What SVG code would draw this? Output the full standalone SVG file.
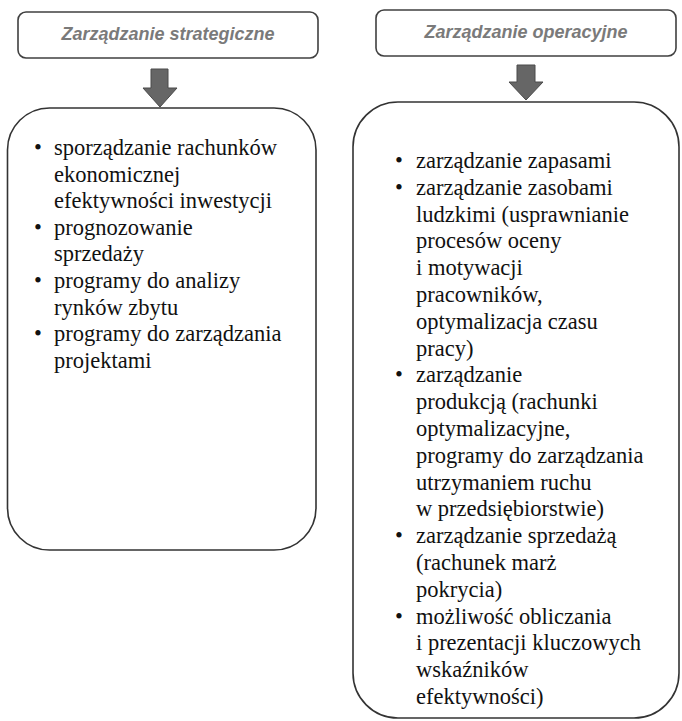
<svg xmlns="http://www.w3.org/2000/svg" width="682" height="721" viewBox="0 0 682 721">
<style>
.head{fill:#fff;stroke:#404040;stroke-width:1.6}
.big{fill:#fff;stroke:#333;stroke-width:1.6}
.ht{font-family:"Liberation Sans",Arial,sans-serif;font-weight:bold;font-style:italic;font-size:18px;fill:#7a7a7a;text-anchor:middle}
.bt{font-family:"Liberation Serif","Times New Roman",serif;font-size:22.5px;fill:#111}
.arr{fill:#666;stroke:#4a4a4a;stroke-width:1}
</style>
<rect width="682" height="721" fill="#fff"/>
<g id="head-strategic">
<rect class="head" x="18" y="12" width="300" height="46" rx="8"/>
<text class="ht" x="168" y="40">Zarządzanie strategiczne</text>
</g>
<g id="head-operational">
<rect class="head" x="376" y="10" width="300" height="46" rx="8"/>
<text class="ht" x="526" y="38">Zarządzanie operacyjne</text>
</g>
<g id="connectors">
<polygon class="arr" points="151,69 168,69 168,88 177,88 160,107 143,88 151,88"/>
<polygon class="arr" points="517,65 535,65 535,82 543,82 526,100 509,82 517,82"/>
</g>
<g id="list-strategic">
<rect class="big" x="7.5" y="108" width="308.5" height="442" rx="42"/>
<g class="bt">
<text x="34" y="155">•</text>
<text x="54" y="155">sporządzanie rachunków</text>
<text x="54" y="181.6">ekonomicznej</text>
<text x="54" y="208.2">efektywności inwestycji</text>
<text x="34" y="234.8">•</text>
<text x="54" y="234.8">prognozowanie</text>
<text x="54" y="261.4">sprzedaży</text>
<text x="34" y="288">•</text>
<text x="54" y="288">programy do analizy</text>
<text x="54" y="314.6">rynków zbytu</text>
<text x="34" y="341.2">•</text>
<text x="54" y="341.2">programy do zarządzania</text>
<text x="54" y="367.8">projektami</text>
</g>
</g>
<g id="list-operational">
<rect class="big" x="353" y="102" width="326" height="616" rx="45"/>
<g class="bt">
<text x="395" y="168">•</text>
<text x="416" y="168">zarządzanie zapasami</text>
<text x="395" y="194.8">•</text>
<text x="416" y="194.8">zarządzanie zasobami</text>
<text x="416" y="221.6">ludzkimi (usprawnianie</text>
<text x="416" y="248.4">procesów oceny</text>
<text x="416" y="275.2">i motywacji</text>
<text x="416" y="302">pracowników,</text>
<text x="416" y="328.8">optymalizacja czasu</text>
<text x="416" y="355.6">pracy)</text>
<text x="395" y="382.4">•</text>
<text x="416" y="382.4">zarządzanie</text>
<text x="416" y="409.2">produkcją (rachunki</text>
<text x="416" y="436">optymalizacyjne,</text>
<text x="416" y="462.8">programy do zarządzania</text>
<text x="416" y="489.6">utrzymaniem ruchu</text>
<text x="416" y="516.4">w przedsiębiorstwie)</text>
<text x="395" y="543.2">•</text>
<text x="416" y="543.2">zarządzanie sprzedażą</text>
<text x="416" y="570">(rachunek marż</text>
<text x="416" y="596.8">pokrycia)</text>
<text x="395" y="623.6">•</text>
<text x="416" y="623.6">możliwość obliczania</text>
<text x="416" y="650.4">i prezentacji kluczowych</text>
<text x="416" y="677.2">wskaźników</text>
<text x="416" y="704">efektywności)</text>
</g>
</g>
</svg>
